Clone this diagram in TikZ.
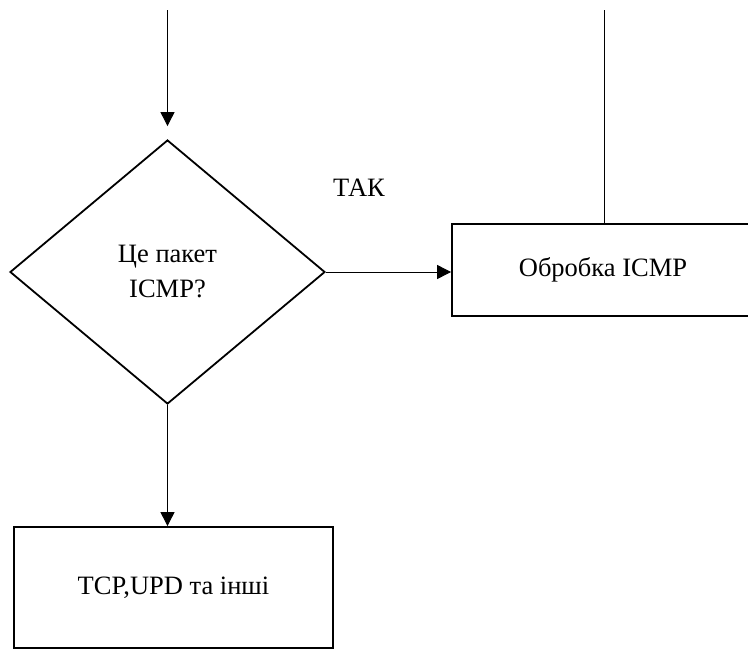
\documentclass[tikz,border=0pt]{standalone}
\usepackage{fontspec}
\setmainfont{Liberation Serif}
\usetikzlibrary{shapes.geometric,arrows.meta}
\tikzset{
    decision/.style={diamond, draw, line width=1.8pt, inner sep=0pt,
        minimum width=315pt, minimum height=264pt, align=center},
    process/.style={rectangle, draw, line width=1.8pt, inner sep=0pt, align=center},
    flow/.style={-{Triangle[length=14pt,width=14pt]}, line width=0.9pt},
}
\begin{document}
\begin{tikzpicture}[x=1pt, y=-1pt, font=\fontsize{26.5}{35}\selectfont]
        \useasboundingbox (0, 0) rectangle (748, 651);
        \coordinate (in) at (167.5, 10);
        \coordinate (ret) at (604, 10);
        \node[decision] (icmp) at (167.5, 272) {Це пакет\\ICMP?};
        \node[process, minimum width=310pt, minimum height=92pt] (obr) at (607, 270) {Обробка ICMP\kern8pt};
        \node[process, minimum width=319pt, minimum height=121pt] (tcp) at (173.5, 587.5) {TCP,UPD та інші};
        \node (yes) at (359, 188) {ТАК};
        \draw[flow, shorten >=13pt] (in) -- (icmp.north);
        \draw[flow] (icmp.east) -- (icmp.east -| obr.west);
        \draw[flow] (icmp.south) -- (icmp.south |- tcp.north);
        \draw[-, line width=0.9pt] (ret) -- (ret |- obr.north);
    \end{tikzpicture}
\end{document}
